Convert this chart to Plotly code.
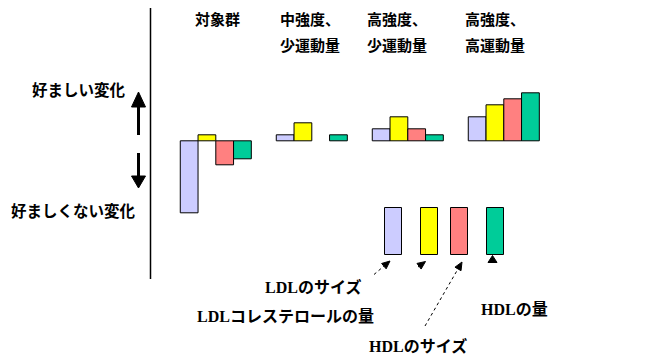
import math
import plotly.graph_objects as go

# ---------------- data ----------------
groups = ["対象群", "中強度、少運動量", "高強度、少運動量", "高強度、高運動量"]
group_line1 = ["対象群", "中強度、", "高強度、", "高強度、"]
group_line2 = ["", "少運動量", "少運動量", "高運動量"]

series_names = ["LDLのサイズ", "LDLコレステロールの量", "HDLのサイズ", "HDLの量"]
ldl_size = [-12, 1, 2, 4]
ldl_amount = [1, 3, 4, 6]
hdl_size = [-4, None, 2, 7]   # no change shown for the moderate / low-volume group
hdl_amount = [-3, 1, 1, 8]
series_values = [ldl_size, ldl_amount, hdl_size, hdl_amount]

label_good = "好ましい変化"
label_bad = "好ましくない変化"

# ---------------- styles ----------------
colors = ["#CCCCFF", "#FFFF00", "#FF8080", "#00CC99"]
W, H = 668, 360
OFF = 8  # page body margin offset of the plot within the window
CJK = "Noto Sans CJK JP"
SERIF = "Liberation Serif, 'Noto Sans CJK JP'"


def px(x):
    return (x - OFF) / W


def py(y):
    return 1 - (y - OFF) / H


fig = go.Figure()
for name, vals, col in zip(series_names, series_values, colors):
    fig.add_trace(go.Bar(
        x=groups, y=vals, name=name,
        marker=dict(color=col, line=dict(color="black", width=1)),
    ))

shapes = []
annotations = []

# vertical separator line
shapes.append(dict(type="line", xref="paper", yref="paper",
                   x0=px(150.5), x1=px(150.5), y0=py(3), y1=py(279),
                   line=dict(color="black", width=1.5)))


# solid up / down arrows
def solid_arrow(x, y_tail, y_tip, head_len=15, head_w=14, shaft=3):
    d = 1 if y_tip > y_tail else -1
    base = y_tip - d * head_len
    shapes.append(dict(type="line", xref="paper", yref="paper",
                       x0=px(x), x1=px(x), y0=py(y_tail), y1=py(base),
                       line=dict(color="black", width=shaft)))
    path = "M {} {} L {} {} L {} {} Z".format(
        px(x), py(y_tip), px(x - head_w / 2), py(base), px(x + head_w / 2), py(base))
    shapes.append(dict(type="path", xref="paper", yref="paper", path=path,
                       fillcolor="black", line=dict(color="black", width=1)))


solid_arrow(138.5, 135, 92)
solid_arrow(138.5, 153, 188, head_len=12)

# legend boxes
box_x = [384.5, 420.5, 450.5, 486.5]
for bx, col in zip(box_x, colors):
    shapes.append(dict(type="rect", xref="paper", yref="paper",
                       x0=px(bx), x1=px(bx + 17), y0=py(254.5), y1=py(207.5),
                       fillcolor=col, line=dict(color="black", width=1)))


# dotted arrows pointing to the legend boxes
def dotted_arrow(x0, y0, x1, y1, head_len=8, head_w=7, dash="dot"):
    ang = math.atan2(y1 - y0, x1 - x0)
    bx = x1 - head_len * math.cos(ang)
    by = y1 - head_len * math.sin(ang)
    if math.hypot(bx - x0, by - y0) > 1:
        shapes.append(dict(type="line", xref="paper", yref="paper",
                           x0=px(x0), y0=py(y0), x1=px(bx), y1=py(by),
                           line=dict(color="black", width=1, dash=dash)))
    nx, ny = -math.sin(ang), math.cos(ang)
    path = "M {} {} L {} {} L {} {} Z".format(
        px(x1), py(y1),
        px(bx + nx * head_w / 2), py(by + ny * head_w / 2),
        px(bx - nx * head_w / 2), py(by - ny * head_w / 2))
    shapes.append(dict(type="path", xref="paper", yref="paper", path=path,
                       fillcolor="black", line=dict(color="black", width=1)))


dotted_arrow(374, 274.5, 390, 261)
dotted_arrow(418, 267, 425.5, 261.5)
dotted_arrow(425, 326, 462, 262)
dotted_arrow(492.5, 263, 492.5, 255.5, head_len=7, head_w=9)

# group labels (two lines)
label_xshift = [-23, -34, -43, -41]
for g, l1, l2, xs in zip(groups, group_line1, group_line2, label_xshift):
    for txt, yy in ((l1, 18.5), (l2, 45)):
        if txt:
            annotations.append(dict(x=g, xref="x", y=py(yy), yref="paper",
                                    xshift=xs, xanchor="left", yanchor="middle",
                                    text="<b>" + txt + "</b>", showarrow=False,
                                    font=dict(family=CJK, size=15, color="black")))

# side labels
annotations.append(dict(x=px(128), y=py(89), xref="paper", yref="paper",
                        xanchor="right", yanchor="middle", showarrow=False,
                        text="<b>" + label_good + "</b>",
                        font=dict(family=CJK, size=15.5, color="black")))
annotations.append(dict(x=px(138), y=py(209.5), xref="paper", yref="paper",
                        xanchor="right", yanchor="middle", showarrow=False,
                        text="<b>" + label_bad + "</b>",
                        font=dict(family=CJK, size=15.5, color="black")))

# series name labels
name_pos = [(313, 286.5), (285, 316), (418, 345.5), (514.5, 309.7)]
for nm, (xx, yy) in zip(series_names, name_pos):
    annotations.append(dict(x=px(xx), y=py(yy), xref="paper", yref="paper",
                            xanchor="center", yanchor="middle", showarrow=False,
                            text="<b>" + nm + "</b>",
                            font=dict(family=SERIF, size=16, color="black")))

# axis mapping (window px): group centre i -> 215.8 + 96*i ; value v -> 140.8 - 6*v
cx0 = 215.8 - OFF
base = 140.8 - OFF
x_left = -cx0 / 96
x_right = (W - cx0) / 96
y_top = base / 6
y_bot = y_top - H / 6

fig.update_layout(
    width=W, height=H,
    margin=dict(l=0, r=0, t=0, b=0),
    paper_bgcolor="white", plot_bgcolor="white",
    barmode="group", bargap=0.26, bargroupgap=0,
    showlegend=False,
    xaxis=dict(visible=False, range=[x_left, x_right], type="category"),
    yaxis=dict(visible=False, range=[y_bot, y_top]),
    shapes=shapes, annotations=annotations,
)

fig.write_html("out.html")
